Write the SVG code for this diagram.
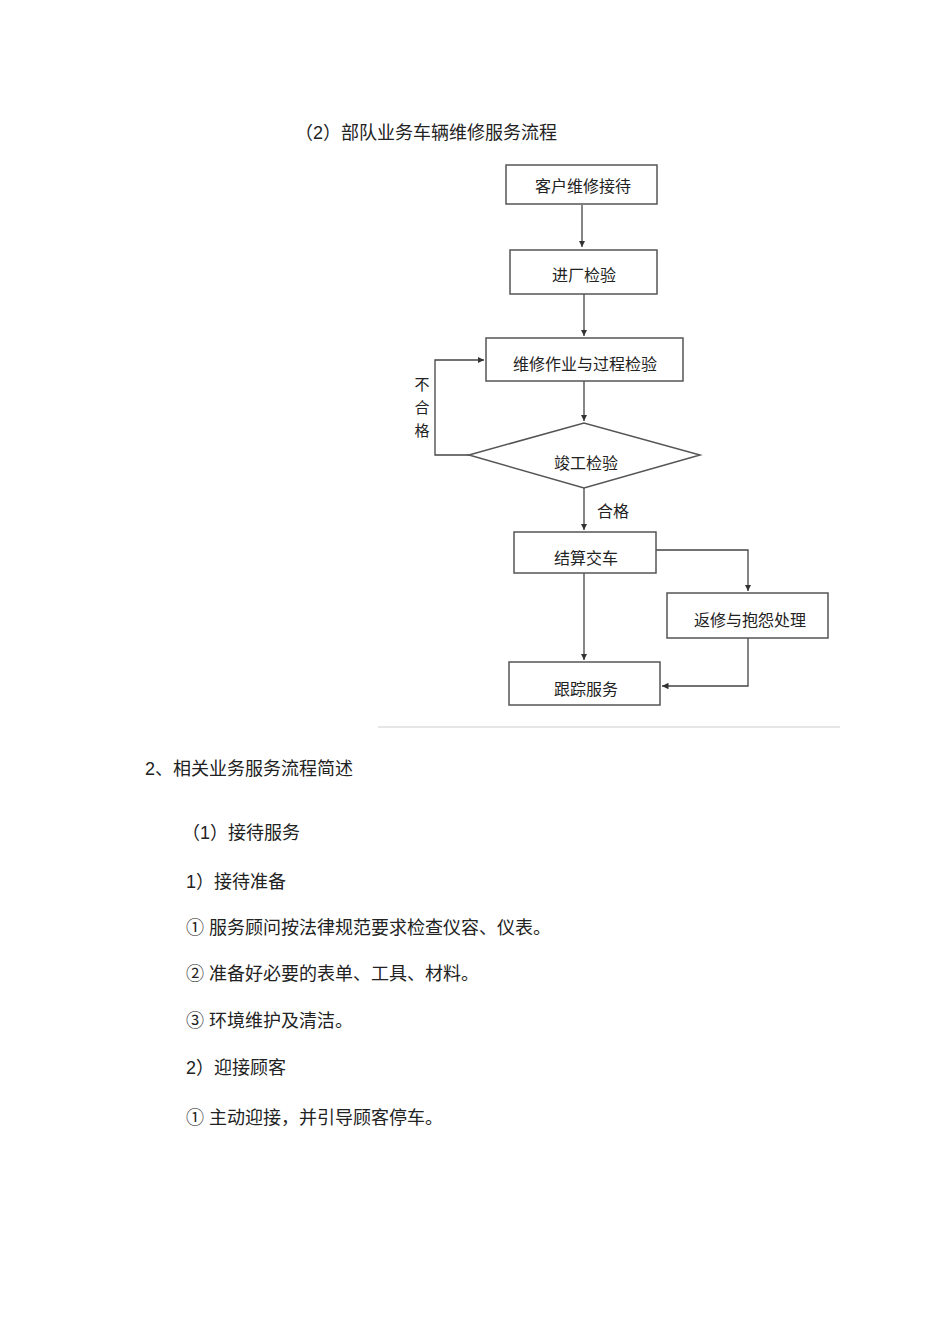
<svg xmlns="http://www.w3.org/2000/svg" width="950" height="1318" viewBox="0 0 950 1318">
<style>
.t{font-family:"Liberation Sans","Noto Sans CJK SC",sans-serif;fill:#222}
.b{font-size:18px}
.n{font-size:16px;text-anchor:middle;dominant-baseline:central}
.box{fill:#fff;stroke:#555;stroke-width:1.5}
.c{fill:none;stroke:#444;stroke-width:1.3}
</style>
<defs><marker id="a" viewBox="0 0 6 6" refX="6" refY="3" markerWidth="5" markerHeight="5" orient="auto"><path d="M0,0L6,3L0,6z" fill="#333"/></marker></defs>
<rect width="950" height="1318" fill="#fff"/>
<text class="t b" x="295" y="139">（2）部队业务车辆维修服务流程</text>
<g id="connectors">
<path class="c" d="M582,205V247" marker-end="url(#a)" stroke-width="2"/>
<path class="c" d="M584,294V336" marker-end="url(#a)"/>
<path class="c" d="M584,381V421" marker-end="url(#a)"/>
<path class="c" d="M469,455H435V360H484" marker-end="url(#a)"/>
<path class="c" d="M584,488V530" marker-end="url(#a)"/>
<path class="c" d="M656,550H748V591" marker-end="url(#a)"/>
<path class="c" d="M584,573V660" marker-end="url(#a)"/>
<path class="c" d="M748,638V686H662" marker-end="url(#a)"/>
</g>
<g id="n1"><rect class="box" x="506" y="165" width="151" height="39"/><text class="t n" x="583" y="186">客户维修接待</text></g>
<g id="n2"><rect class="box" x="510" y="250" width="147" height="44"/><text class="t n" x="584" y="275">进厂检验</text></g>
<g id="n3"><rect class="box" x="486" y="338" width="197" height="43"/><text class="t n" x="585" y="364">维修作业与过程检验</text></g>
<g id="n4"><path class="box" d="M469,455L584,423L700,455L584,488Z"/><text class="t n" x="586" y="463">竣工检验</text></g>
<g id="n5"><rect class="box" x="514" y="532" width="142" height="41"/><text class="t n" x="586" y="558">结算交车</text></g>
<g id="n6"><rect class="box" x="667" y="593" width="161" height="45"/><text class="t n" x="750" y="620">返修与抱怨处理</text></g>
<g id="n7"><rect class="box" x="509" y="662" width="151" height="43"/><text class="t n" x="586" y="689">跟踪服务</text></g>
<text class="t n" x="422" y="384" style="font-size:15px">不</text>
<text class="t n" x="422" y="407" style="font-size:15px">合</text>
<text class="t n" x="422" y="430" style="font-size:15px">格</text>
<text class="t n" x="613" y="511">合格</text>
<line x1="378" y1="727" x2="840" y2="727" stroke="#e6e6e6" stroke-width="2"/>
<text class="t b" x="145" y="775">2、相关业务服务流程简述</text>
<text class="t b" x="182" y="839">（1）接待服务</text>
<text class="t b" x="186" y="888">1）接待准备</text>
<text class="t b" x="186" y="934">①  服务顾问按法律规范要求检查仪容、仪表。</text>
<text class="t b" x="186" y="980">②  准备好必要的表单、工具、材料。</text>
<text class="t b" x="186" y="1027">③  环境维护及清洁。</text>
<text class="t b" x="186" y="1074">2）迎接顾客</text>
<text class="t b" x="186" y="1124">①   主动迎接，并引导顾客停车。</text>
</svg>
